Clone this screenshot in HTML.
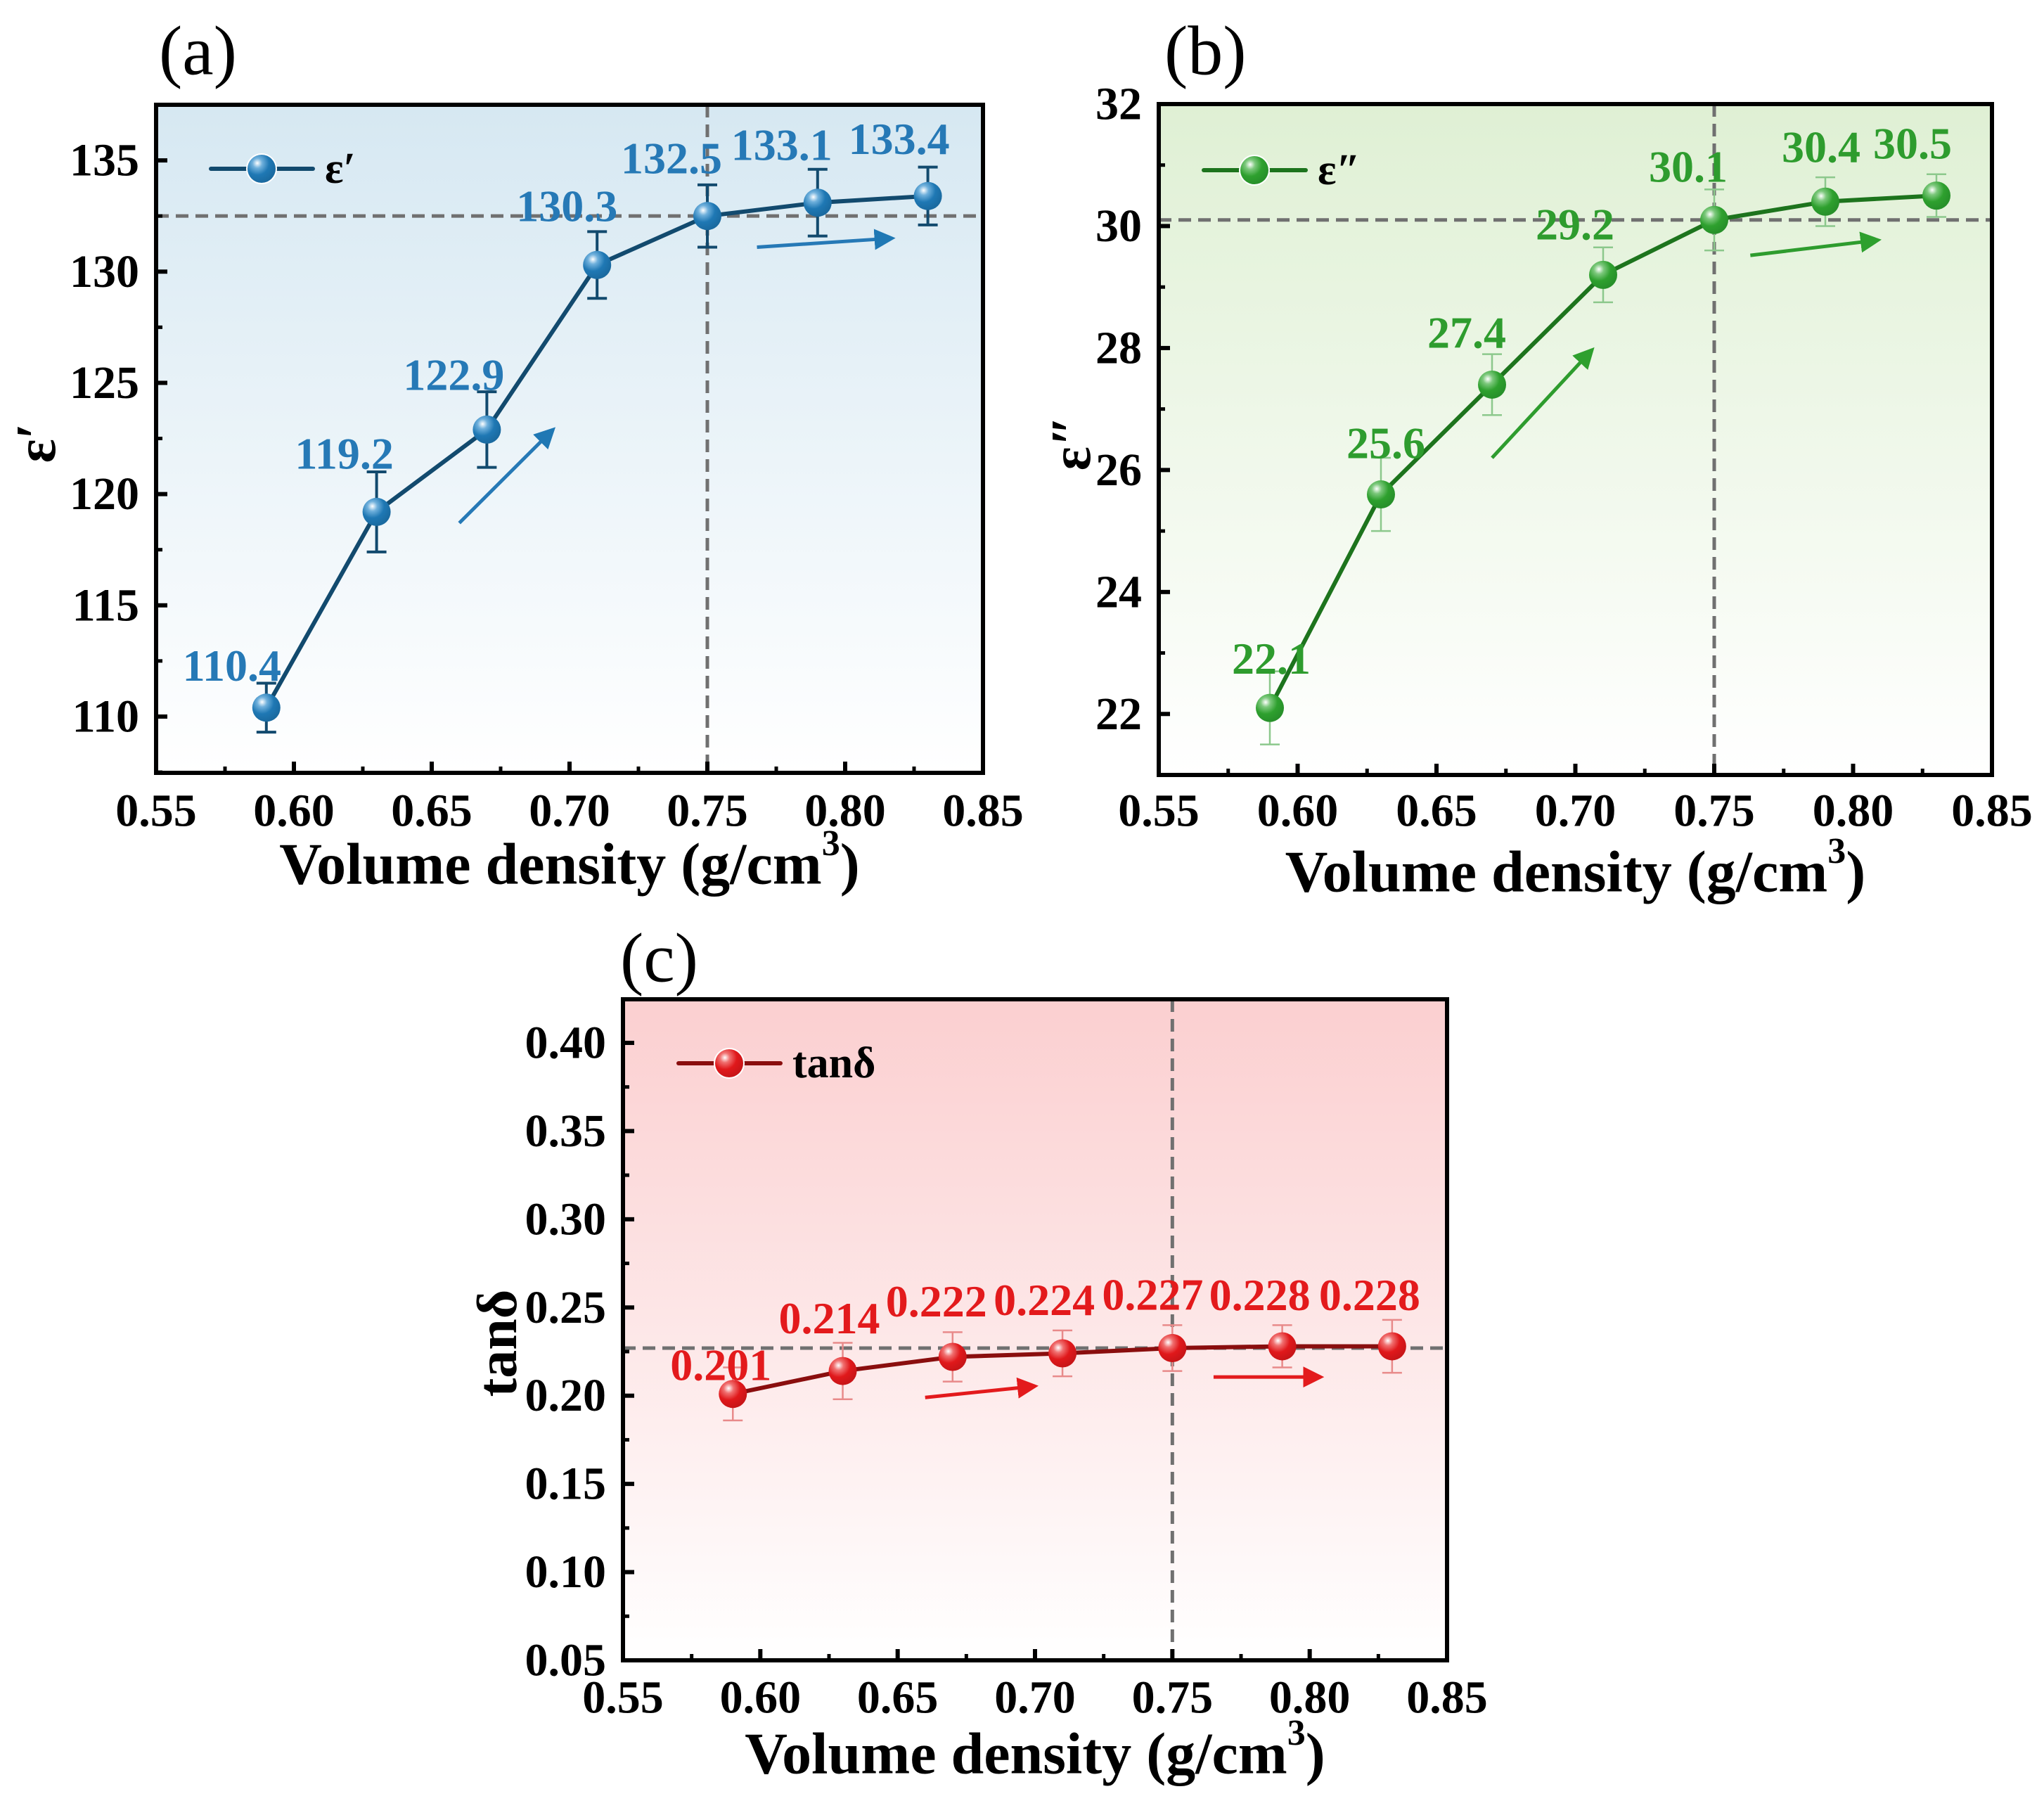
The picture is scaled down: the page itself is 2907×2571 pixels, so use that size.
<!DOCTYPE html>
<html><head><meta charset="utf-8">
<style>
html,body{margin:0;padding:0;background:#fff;}
svg{display:block;}
text{font-family:"Liberation Serif","DejaVu Serif",serif;}
</style></head>
<body>
<svg id="fig" width="2907" height="2571" viewBox="0 0 2907 2571" xmlns="http://www.w3.org/2000/svg">
<defs>
<linearGradient id="bgA" x1="0" y1="0" x2="0" y2="1"><stop offset="0" stop-color="#d6e8f2"/><stop offset="1" stop-color="#ffffff"/></linearGradient>
<linearGradient id="bgB" x1="0" y1="0" x2="0" y2="1"><stop offset="0" stop-color="#dff0d4"/><stop offset="1" stop-color="#ffffff"/></linearGradient>
<linearGradient id="bgC" x1="0" y1="0" x2="0" y2="1"><stop offset="0" stop-color="#fbcfd0"/><stop offset="1" stop-color="#ffffff"/></linearGradient>
<radialGradient id="mkA" cx="0.35" cy="0.3" r="0.7"><stop offset="0" stop-color="#ffffff"/><stop offset="0.25" stop-color="#6fb0dc"/><stop offset="0.6" stop-color="#1f78b4"/><stop offset="1" stop-color="#1a6aa0"/></radialGradient>
<radialGradient id="mkB" cx="0.35" cy="0.3" r="0.7"><stop offset="0" stop-color="#ffffff"/><stop offset="0.25" stop-color="#7cc87c"/><stop offset="0.6" stop-color="#2ea02e"/><stop offset="1" stop-color="#27902a"/></radialGradient>
<radialGradient id="mkC" cx="0.35" cy="0.3" r="0.7"><stop offset="0" stop-color="#ffffff"/><stop offset="0.25" stop-color="#f07070"/><stop offset="0.6" stop-color="#e0181b"/><stop offset="1" stop-color="#c81518"/></radialGradient>
<marker id="arA" markerWidth="6" markerHeight="6" refX="5" refY="3" orient="auto" markerUnits="strokeWidth"><path d="M0,0 L6,3 L0,6 z" fill="#1f78b4"/></marker>
<marker id="arB" markerWidth="6" markerHeight="6" refX="5" refY="3" orient="auto" markerUnits="strokeWidth"><path d="M0,0 L6,3 L0,6 z" fill="#2ea02e"/></marker>
<marker id="arC" markerWidth="6" markerHeight="6" refX="5" refY="3" orient="auto" markerUnits="strokeWidth"><path d="M0,0 L6,3 L0,6 z" fill="#e31a1c"/></marker>
</defs>
</svg>
<script>
// ---- shared data ----
const densities = [0.59, 0.63, 0.67, 0.71, 0.75, 0.79, 0.83];
const xTicks = [0.55, 0.60, 0.65, 0.70, 0.75, 0.80, 0.85];
const xTickLabels = ["0.55","0.60","0.65","0.70","0.75","0.80","0.85"];
// ---- panel a ----
const epsReal = [110.4, 119.2, 122.9, 130.3, 132.5, 133.1, 133.4];
const epsRealErr = [1.1, 1.8, 1.7, 1.5, 1.4, 1.5, 1.3];
const epsRealLabels = ["110.4","119.2","122.9","130.3","132.5","133.1","133.4"];
const yTicksA = [110, 115, 120, 125, 130, 135];
const yTickLabelsA = ["110","115","120","125","130","135"];
const refA = [0.75, 132.5];
const arrowsA = [[0.66, 118.7, 0.694, 122.9], [0.768, 131.1, 0.817, 131.5]];
// ---- panel b ----
const epsImag = [22.1, 25.6, 27.4, 29.2, 30.1, 30.4, 30.5];
const epsImagErr = [0.6, 0.6, 0.5, 0.45, 0.5, 0.4, 0.35];
const epsImagLabels = ["22.1","25.6","27.4","29.2","30.1","30.4","30.5"];
const yTicksB = [22, 24, 26, 28, 30, 32];
const yTickLabelsB = ["22","24","26","28","30","32"];
const refB = [0.75, 30.1];
const arrowsB = [[0.67, 26.2, 0.706, 27.97], [0.763, 29.52, 0.809, 29.77]];
// ---- panel c ----
const tanD = [0.201, 0.214, 0.222, 0.224, 0.227, 0.228, 0.228];
const tanDErr = [0.015, 0.016, 0.014, 0.013, 0.013, 0.012, 0.015];
const tanDLabels = ["0.201","0.214","0.222","0.224","0.227","0.228","0.228"];
const yTicksC = [0.05, 0.10, 0.15, 0.20, 0.25, 0.30, 0.35, 0.40];
const yTickLabelsC = ["0.05","0.10","0.15","0.20","0.25","0.30","0.35","0.40"];
const refC = [0.75, 0.227];
const arrowsC = [[0.66, 0.199, 0.70, 0.2054], [0.765, 0.2106, 0.804, 0.2106]];

const NS = "http://www.w3.org/2000/svg";
const svg = document.getElementById('fig');
function mk(tag, attrs, parent, txt){
  const e = document.createElementNS(NS, tag);
  for (const k in attrs) e.setAttribute(k, attrs[k]);
  if (txt !== undefined) e.textContent = txt;
  (parent || svg).appendChild(e);
  return e;
}

function panel(cfg){
  const g = mk('g', {});
  
  
  const L = cfg.box[0], T = cfg.box[1], R = cfg.box[2], B = cfg.box[3];
  const sx = v => L + (v - 0.55) / 0.30 * (R - L);
  const sy = v => B - (v - cfg.ymin) / (cfg.ymax - cfg.ymin) * (B - T);
  const bg = mk('rect', {x:L, y:T, width:R-L, height:B-T, fill:cfg.bg}, g);
  
  
  const vr = mk('line', {x1:sx(cfg.ref[0]), x2:sx(cfg.ref[0]), y1:T, y2:B, stroke:'#707070', 'stroke-width':5, 'stroke-dasharray':'18 10'}, g);
  
  
  const hr = mk('line', {x1:L, x2:R, y1:sy(cfg.ref[1]), y2:sy(cfg.ref[1]), stroke:'#707070', 'stroke-width':5, 'stroke-dasharray':'18 10'}, g);
  
  
  const tg = mk('g', {}, g);
  
  
  xTicks.forEach((v, i) => {
    mk('line', {x1:sx(v), x2:sx(v), y1:B, y2:B-16, stroke:'#000', 'stroke-width':6}, tg);
    if (i < xTicks.length - 1) mk('line', {x1:sx(v+0.025), x2:sx(v+0.025), y1:B, y2:B-9, stroke:'#000', 'stroke-width':5}, tg);
    const t = mk('text', {x:sx(v), y:cfg.xlabY, 'font-size':66, 'font-weight':'bold', 'text-anchor':'middle', 'dominant-baseline':'central'}, tg, xTickLabels[i]);
    
    
  });
  const yg = mk('g', {}, g);
  
  
  cfg.yticks.forEach((v, i) => {
    mk('line', {x1:L, x2:L+16, y1:sy(v), y2:sy(v), stroke:'#000', 'stroke-width':6}, yg);
    const mv = v + cfg.ystep/2;
    if (mv < cfg.ymax) mk('line', {x1:L, x2:L+9, y1:sy(mv), y2:sy(mv), stroke:'#000', 'stroke-width':5}, yg);
    const t = mk('text', {x:L-24, y:sy(v), 'font-size':66, 'font-weight':'bold', 'text-anchor':'end', 'dominant-baseline':'central'}, yg, cfg.ylabels[i]);
    
    
  });
  const lowMinor = cfg.yticks[0] - cfg.ystep/2;
  if (lowMinor > cfg.ymin) mk('line', {x1:L, x2:L+9, y1:sy(lowMinor), y2:sy(lowMinor), stroke:'#000', 'stroke-width':5}, yg);
  cfg.arrows.forEach(a => {
    const ar = mk('line', {x1:sx(a[0]), y1:sy(a[1]), x2:sx(a[2]), y2:sy(a[3]), stroke:cfg.label, 'stroke-width':5, 'marker-end':'url(#'+cfg.arrowId+')'}, g);
    
    
  });
  const eg = mk('g', {}, g);
  
  
  densities.forEach((d, i) => {
    const x = sx(d), y1 = sy(cfg.ys[i] + cfg.err[i]), y2 = sy(cfg.ys[i] - cfg.err[i]);
    mk('line', {x1:x, x2:x, y1:y1, y2:y2, stroke:cfg.errColor, 'stroke-width':cfg.errW}, eg);
    mk('line', {x1:x-14, x2:x+14, y1:y1, y2:y1, stroke:cfg.errColor, 'stroke-width':cfg.errW}, eg);
    mk('line', {x1:x-14, x2:x+14, y1:y2, y2:y2, stroke:cfg.errColor, 'stroke-width':cfg.errW}, eg);
  });
  const pts = densities.map((d, i) => sx(d) + ',' + sy(cfg.ys[i])).join(' ');
  const pl = mk('polyline', {points:pts, fill:'none', stroke:cfg.line, 'stroke-width':6}, g);
  
  
  densities.forEach((d, i) => {
    const c = mk('circle', {cx:sx(d), cy:sy(cfg.ys[i]), r:20, fill:'url(#'+cfg.mk+')'}, g);
    
    
    const t = mk('text', {x:sx(d)+cfg.off[i][0], y:sy(cfg.ys[i])+cfg.off[i][1], 'font-size':64, 'font-weight':'bold', fill:cfg.label, 'text-anchor':'middle', 'dominant-baseline':'central'}, g, cfg.labels[i]);
    
    
  });
  const fr = mk('rect', {x:L, y:T, width:R-L, height:B-T, fill:'none', stroke:'#000', 'stroke-width':6}, g);
  
  
  const lg = mk('g', {}, g);
  
  
  const lx = cfg.legend[0], ly = cfg.legend[1];
  mk('line', {x1:lx, x2:lx+145, y1:ly, y2:ly, stroke:cfg.line, 'stroke-width':6, 'stroke-linecap':'round'}, lg);
  mk('circle', {cx:lx+72, cy:ly, r:20, fill:'url(#'+cfg.mk+')', stroke:'#fff', 'stroke-width':4}, lg);
  mk('circle', {cx:lx+72, cy:ly, r:20, fill:'url(#'+cfg.mk+')'}, lg);
  mk('text', {x:lx+162, y:ly, 'font-size':62, 'font-weight':'bold', 'dominant-baseline':'central'}, lg, cfg.legendText);
  const xt = mk('text', {x:(L+R)/2, y:cfg.xtitleY, 'font-size':84, 'font-weight':'bold', 'text-anchor':'middle', 'dominant-baseline':'central'}, g);
  
  
  xt.appendChild(document.createTextNode('Volume density (g/cm'));
  mk('tspan', {'font-size':52, dy:-30}, xt, '3');
  mk('tspan', {dy:30}, xt, ')');
  const yt = mk('text', {x:cfg.ytitle[0], y:cfg.ytitle[1], 'font-size':cfg.ytitleSize, 'font-weight':'bold', 'text-anchor':'middle', 'dominant-baseline':'central', transform:'rotate(-90 '+cfg.ytitle[0]+' '+cfg.ytitle[1]+')'}, g, cfg.ytitleText);
  
  
  const pt = mk('text', {x:cfg.plabel[0], y:cfg.plabel[1], 'font-size':100, 'dominant-baseline':'central'}, g, cfg.plabelText);
  
  
}

panel({name:'panel-a', box:[222,149,1398,1099], ymin:107.47, ymax:137.5, ystep:5,
  yticks:yTicksA, ylabels:yTickLabelsA, ys:epsReal, err:epsRealErr, labels:epsRealLabels,
  ref:refA, arrows:arrowsA, bg:'url(#bgA)', line:'#124a6e', mk:'mkA', label:'#2679b6', arrowId:'arA',
  errColor:'#124a6e', errW:4,
  off:[[-49,-60],[-46,-83],[-47,-78],[-43,-84],[-51,-82],[-51,-82],[-41,-81]],
  legend:[300,240], legendText:'ε′', xlabY:1153, xtitleY:1229, ytitle:[52,630], ytitleSize:80, ytitleText:'ε′',
  plabel:[226,72], plabelText:'(a)'});
panel({name:'panel-b', box:[1648,148,2833,1102], ymin:21, ymax:32, ystep:2,
  yticks:yTicksB, ylabels:yTickLabelsB, ys:epsImag, err:epsImagErr, labels:epsImagLabels,
  ref:refB, arrows:arrowsB, bg:'url(#bgB)', line:'#1d741d', mk:'mkB', label:'#2e9c2e', arrowId:'arB',
  errColor:'#8cc88c', errW:2.5,
  off:[[2,-70],[7,-73],[-36,-74],[-40,-72],[-37,-76],[-6,-78],[-34,-74]],
  legend:[1712,242], legendText:'ε″', xlabY:1153, xtitleY:1240, ytitle:[1524,630], ytitleSize:80, ytitleText:'ε″',
  plabel:[1656,72], plabelText:'(b)'});
panel({name:'panel-c', box:[886,1421,2058,2361], ymin:0.05, ymax:0.4247, ystep:0.05,
  yticks:yTicksC, ylabels:yTickLabelsC, ys:tanD, err:tanDErr, labels:tanDLabels,
  ref:refC, arrows:arrowsC, bg:'url(#bgC)', line:'#8a0e0e', mk:'mkC', label:'#e31a1c', arrowId:'arC',
  errColor:'#e88a8a', errW:2.5,
  off:[[-17,-41],[-19,-75],[-23,-79],[-26,-76],[-28,-76],[-32,-73],[-32,-73]],
  legend:[965,1512], legendText:'tanδ', xlabY:2414, xtitleY:2494, ytitle:[708,1910], ytitleSize:80, ytitleText:'tanδ',
  plabel:[882,1362], plabelText:'(c)'});
</script>
</body></html>
